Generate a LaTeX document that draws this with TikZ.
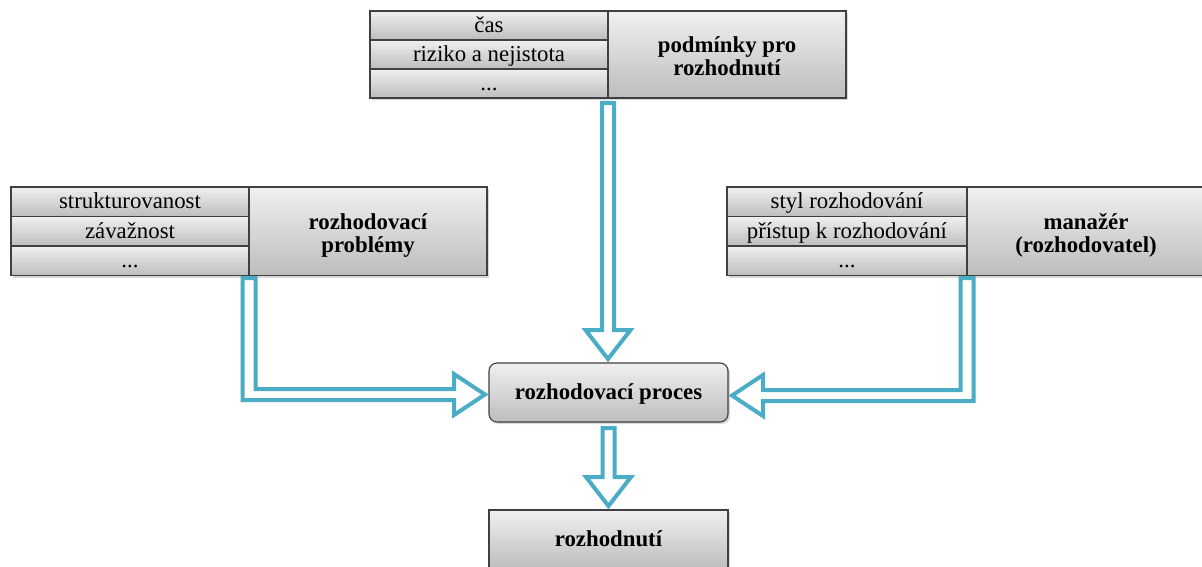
\documentclass[tikz,border=0pt]{standalone}
\usepackage{fontspec}
\setmainfont{Liberation Serif}
\usetikzlibrary{calc,shadows}

\definecolor{flowblue}{HTML}{4BACC6}
\definecolor{cellline}{HTML}{404040}
\definecolor{celltop}{HTML}{F0F0F0}
\definecolor{cellbot}{HTML}{BDBDBD}

\tikzset{
  cell/.style={draw=cellline, line width=1.1pt, top color=celltop, bottom color=cellbot,
    minimum width=238pt, minimum height=29pt, inner sep=0pt, outer sep=0pt,
    text height=17pt, text depth=3pt,
    drop shadow={shadow xshift=2pt, shadow yshift=-2pt, opacity=0.3},
    font=\fontsize{22.8}{24}\selectfont},
  tallcell/.style={cell, minimum height=29.5pt},
  headcell/.style={cell, align=center, text height=42.5pt, text depth=0.5pt,
    font=\bfseries\fontsize{22.8}{23}\selectfont},
  procbox/.style={cell, minimum width=239pt, minimum height=59pt,
    font=\bfseries\fontsize{22.8}{24}\selectfont},
  hollow/.style={draw=flowblue, line width=4pt, fill=white, line join=miter},
}

\begin{document}
\begin{tikzpicture}[x=1pt, y=-1pt]
\useasboundingbox (0,0) rectangle (1202,567);
\clip (0,0) rectangle (1202,567);
\fill[white] (0,0) rectangle (1202,567);

% central process and the decision
\node[procbox, rounded corners=8pt] (proc) at (608.5,392.5) {rozhodovací proces};
\node[procbox, anchor=north] (dec) at (608.5,510) {rozhodnutí};

% conditions for the decision (top)
\node[cell, anchor=north west] (t1) at (370,11) {čas};
\node[cell, anchor=north] (t2) at (t1.south) {riziko a nejistota};
\node[cell, anchor=north] (t3) at (t2.south) {...};
\node[headcell, minimum height=87pt, anchor=north west] (th) at (t1.north east) {podmínky pro\\rozhodnutí};

% decision problems (left)
\node[tallcell, anchor=north west] (l1) at (11,187) {strukturovanost};
\node[tallcell, anchor=north] (l2) at (l1.south) {závažnost};
\node[tallcell, anchor=north] (l3) at (l2.south) {...};
\node[headcell, minimum height=88.5pt, anchor=north west] (lh) at (l1.north east) {rozhodovací\\problémy};

% manager (right)
\node[tallcell, minimum width=240pt, anchor=north west] (r1) at (727,187) {styl rozhodování};
\node[tallcell, minimum width=240pt, anchor=north] (r2) at (r1.south) {přístup k rozhodování};
\node[tallcell, minimum width=240pt, anchor=north] (r3) at (r2.south) {...};
\node[headcell, minimum height=88.5pt, anchor=north west] (rh) at (r1.north east) {manažér\\(rozhodovatel)};

% hollow block arrows
\draw[hollow] ($(t3.south east)+(-6,5)$)
  -- ($(t3.south east|-proc.north)+(-6,-33)$) -- ($(t3.south east|-proc.north)+(-22.5,-33)$)
  -- ($(t3.south east|-proc.north)+(0,-4)$)
  -- ($(t3.south east|-proc.north)+(22.5,-33)$) -- ($(t3.south east|-proc.north)+(6,-33)$)
  -- ($(t3.south east)+(6,5)$) -- cycle;

\draw[hollow] ($(proc.south)+(-6,6)$)
  -- ($(proc.south|-dec.north)+(-6,-33)$) -- ($(proc.south|-dec.north)+(-22.5,-33)$)
  -- ($(proc.south|-dec.north)+(0,-4)$)
  -- ($(proc.south|-dec.north)+(22.5,-33)$) -- ($(proc.south|-dec.north)+(6,-33)$)
  -- ($(proc.south)+(6,6)$) -- cycle;

\draw[hollow] ($(l3.south east)+(-6.5,2.5)$)
  -- ($(l3.south east|-proc.west)+(-6.5,7.5)$) -- ($(proc.west)+(-35,7.5)$)
  -- ($(proc.west)+(-35,22.5)$) -- ($(proc.west)+(-4,2)$) -- ($(proc.west)+(-35,-18.5)$)
  -- ($(proc.west)+(-35,-3.5)$) -- ($(l3.south east|-proc.west)+(6.5,-3.5)$)
  -- ($(l3.south east)+(6.5,2.5)$) -- cycle;

\draw[hollow] ($(r3.south east)+(6.5,2.5)$)
  -- ($(r3.south east|-proc.east)+(6.5,8.5)$) -- ($(proc.east)+(35,8.5)$)
  -- ($(proc.east)+(35,23.5)$) -- ($(proc.east)+(4,3)$) -- ($(proc.east)+(35,-17.5)$)
  -- ($(proc.east)+(35,-2.5)$) -- ($(r3.south east|-proc.east)+(-6.5,-2.5)$)
  -- ($(r3.south east)+(-6.5,2.5)$) -- cycle;
\end{tikzpicture}
\end{document}
